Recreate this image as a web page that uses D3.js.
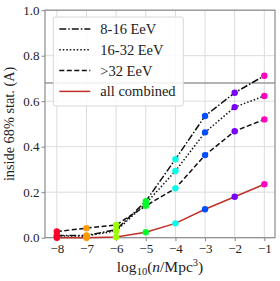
<!DOCTYPE html>
<html>
<head>
<meta charset="utf-8">
<script src="https://d3js.org/d3.v7.min.js"></script>
<style>
	body { margin: 0; background: #fff; }
	text { font-family: 'Liberation Serif', 'DejaVu Serif', serif; fill: #222; }
</style>
</head>
<body>
<script>
// Data
var logDensity = [-8, -7, -6, -5, -4, -3, -2, -1];
var e8to16 = [0.010, 0.010, 0.035, 0.160, 0.345, 0.535, 0.637, 0.712];
var e16to32 = [0.008, 0.008, 0.030, 0.150, 0.293, 0.463, 0.574, 0.623];
var above32 = [0.027, 0.042, 0.056, 0.140, 0.217, 0.363, 0.468, 0.520];
var combined = [0.000, 0.000, 0.003, 0.024, 0.063, 0.125, 0.180, 0.235];
var yTicks = [0.0, 0.2, 0.4, 0.6, 0.8, 1.0];
var threshold = 0.68;

var seriesNames = ['8-16 EeV', '16-32 EeV', '>32 EeV', 'all combined'];
var seriesValues = [e8to16, e16to32, above32, combined];

// Styles
var lineColors = ['#111', '#111', '#111', '#c0302a'];
var lineDashes = ['7,2,1.5,2', '1.5,2', '5,2.5', null];
var markerColors = ['#ff0029', '#ff9c00', '#9eff00', '#00ff27', '#00ffeb', '#004dff', '#7800ff', '#ff00bf'];

// Variables
var width = 280, height = 281;
var margin = { top: 10.2, right: 5, bottom: 43.3, left: 45 };
var innerW = width - margin.left - margin.right;
var innerH = height - margin.top - margin.bottom;

var xScale = d3.scaleLinear().domain([-8.4, -0.64]).range([0, innerW]);
var yScale = d3.scaleLinear().domain([0, 1]).range([innerH, 0]);

var svg = d3.select('body').append('svg')
		.attr('width', width)
		.attr('height', height)
	.append('g')
		.attr('transform', 'translate(' + margin.left + ',' + margin.top + ')');

// Grid
svg.append('g').selectAll('line')
		.data(logDensity)
		.enter().append('line')
		.attr('x1', function(d) { return xScale(d); })
		.attr('x2', function(d) { return xScale(d); })
		.attr('y1', 0).attr('y2', innerH)
		.attr('stroke', '#dcdcdc').attr('stroke-width', 1);
svg.append('g').selectAll('line')
		.data(yTicks)
		.enter().append('line')
		.attr('x1', 0).attr('x2', innerW)
		.attr('y1', function(d) { return yScale(d); })
		.attr('y2', function(d) { return yScale(d); })
		.attr('stroke', '#dcdcdc').attr('stroke-width', 1);

// 68% reference line
svg.append('line')
		.attr('x1', 0).attr('x2', innerW)
		.attr('y1', yScale(threshold)).attr('y2', yScale(threshold))
		.attr('stroke', '#9a9a9a').attr('stroke-width', 1.5);

// Axes
var fmtTick = function(d) { return d3.format('.0f')(d).replace('-', '\u2212'); };
var xAxis = svg.append('g')
		.attr('transform', 'translate(0,' + innerH + ')')
		.call(d3.axisBottom(xScale).tickValues(logDensity).tickFormat(fmtTick).tickSize(3.5).tickPadding(3));
var yAxis = svg.append('g')
		.call(d3.axisLeft(yScale).tickValues(yTicks).tickFormat(d3.format('.1f')).tickSize(3.5).tickPadding(2));
[xAxis, yAxis].forEach(function(a) {
	a.select('.domain').remove();
	a.selectAll('line').attr('stroke', '#888');
	a.selectAll('text').style('font-size', '13px').attr('fill', '#222')
		.style('font-family', "'Liberation Serif', serif");
});

// Frame
svg.append('rect')
		.attr('width', innerW).attr('height', innerH)
		.attr('fill', 'none').attr('stroke', '#8c8c8c').attr('stroke-width', 1.2);

// Series
var line = d3.line()
		.x(function(d, i) { return xScale(logDensity[i]); })
		.y(function(d) { return yScale(d); });

seriesValues.forEach(function(vals, s) {
	svg.append('path')
			.datum(vals)
			.attr('d', line)
			.attr('fill', 'none')
			.attr('stroke', lineColors[s])
			.attr('stroke-width', 1.5)
			.attr('stroke-dasharray', lineDashes[s]);
});
seriesValues.forEach(function(vals) {
	svg.append('g').selectAll('circle')
			.data(vals)
			.enter().append('circle')
			.attr('cx', function(d, i) { return xScale(logDensity[i]); })
			.attr('cy', function(d) { return yScale(d); })
			.attr('r', 3.2)
			.attr('fill', function(d, i) { return markerColors[i]; });
});

// Legend
var legend = svg.append('g').attr('transform', 'translate(8.3,6.8)');
legend.append('rect')
		.attr('width', 130).attr('height', 89)
		.attr('rx', 2)
		.attr('fill', 'rgba(255,255,255,0.85)')
		.attr('stroke', '#d8d8d8');
seriesNames.forEach(function(name, s) {
	var row = legend.append('g').attr('transform', 'translate(0,' + (12 + s * 20.8) + ')');
	row.append('line')
			.attr('x1', 6).attr('x2', 37)
			.attr('stroke', lineColors[s])
			.attr('stroke-width', 1.5)
			.attr('stroke-dasharray', lineDashes[s]);
	row.append('text')
			.attr('x', 47).attr('dy', '0.35em')
			.style('font-size', '14.5px')
			.text(name);
});

// Labels
var xl = svg.append('text')
		.attr('x', innerW / 2 + 0).attr('y', innerH + 34)
		.attr('text-anchor', 'middle')
		.style('font-size', '15.5px');
xl.append('tspan').text('log');
xl.append('tspan').attr('dy', 3).style('font-size', '10.5px').text('10');
xl.append('tspan').attr('dy', -3).text('(');
xl.append('tspan').style('font-style', 'italic').text('n');
xl.append('tspan').text('/Mpc');
xl.append('tspan').attr('dy', -6).style('font-size', '10.5px').text('3');
xl.append('tspan').attr('dy', 6).text(')');

svg.append('text')
		.attr('transform', 'translate(' + (-31) + ',' + (innerH / 2) + ') rotate(-90)')
		.attr('text-anchor', 'middle')
		.style('font-size', '14.3px')
		.text('inside 68% stat. (A)');
</script>
</body>
</html>
